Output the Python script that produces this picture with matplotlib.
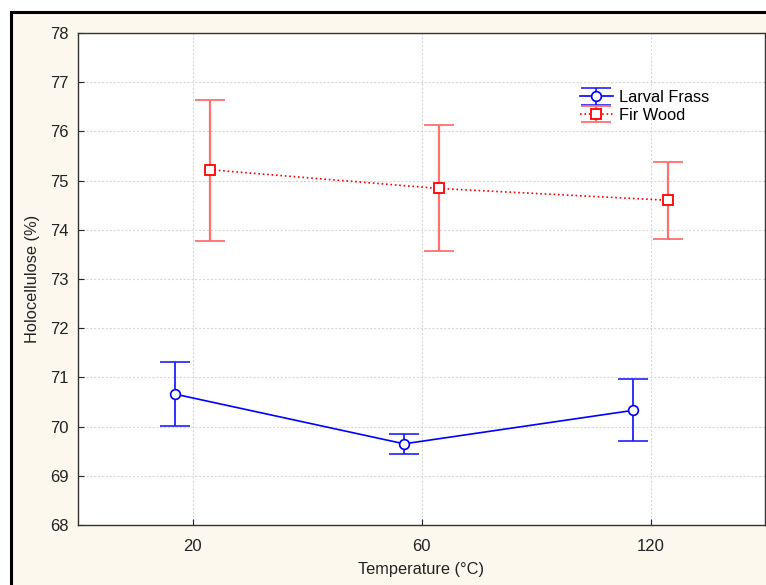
import matplotlib
matplotlib.use("Agg")
import matplotlib.pyplot as plt
import numpy as np
from matplotlib.patches import Rectangle

plt.rcParams['font.family'] = ['Liberation Sans', 'DejaVu Sans']

# data
temps = ['20', '60', '120']
frass_mean = [70.66, 69.65, 70.33]
frass_low = [70.01, 69.44, 69.70]
frass_high = [71.31, 69.85, 70.97]
fir_mean = [75.22, 74.84, 74.60]
fir_low = [73.78, 73.56, 73.82]
fir_high = [76.64, 76.13, 75.38]

W, H = 766, 585
fig = plt.figure(figsize=(W/100, H/100), dpi=100, facecolor='white')
# cream background with black frame (cut at right/bottom)
fig.patches.append(Rectangle((11/W, -0.1), 1.2, (H-12)/H + 0.1, transform=fig.transFigure,
                             facecolor='#fdf8ee', edgecolor='black', linewidth=2.2, zorder=-10))

ax = fig.add_axes([78/W, 60/H, 687/W, 492/H])
ax.set_facecolor('white')

x = np.arange(len(temps))
off = 0.076

fm = np.array(frass_mean)
ferr = [fm - np.array(frass_low), np.array(frass_high) - fm]
wm = np.array(fir_mean)
werr = [wm - np.array(fir_low), np.array(fir_high) - wm]

ax.errorbar(x - off, fm, yerr=ferr, color='#0000ff', ecolor='#2020ff', elinewidth=1.3,
            capsize=11, capthick=1.6, marker='o', markersize=7, markerfacecolor='white',
            markeredgecolor='#0000ff', markeredgewidth=1.2, linewidth=1.2, label='Larval Frass',
            zorder=3)
ax.errorbar(x + off, wm, yerr=werr, color='#ff0000', ecolor='#ff7070', elinewidth=1.6,
            capsize=11, capthick=1.8, marker='s', markersize=7, markerfacecolor='white',
            markeredgecolor='#ff0000', markeredgewidth=1.3, linewidth=1.2, linestyle=':',
            label='Fir Wood', zorder=3)

ax.set_xlim(-0.5, 2.5)
ax.set_ylim(68, 78)
ax.set_xticks(x)
ax.set_xticklabels(temps)
ax.set_yticks(np.arange(68, 79, 1))
ax.tick_params(direction='in', length=4, labelsize=12, colors='#222222')
ax.tick_params(axis='x', pad=10)
ax.tick_params(axis='y', pad=7)
ax.grid(True, color='#d8d8d8', linestyle=(0, (2, 1.5)), linewidth=0.8)
ax.set_axisbelow(True)
for s in ax.spines.values():
    s.set_color('#333333')
    s.set_linewidth(1.0)

ax.set_xlabel('Temperature (°C)', fontsize=11.8, color='#222222', labelpad=6)
ax.set_ylabel('Holocellulose (%)', fontsize=11.8, color='#222222', labelpad=7)

ax.legend(loc='upper left', bbox_to_anchor=(0.714, 0.907), frameon=False, fontsize=11.8,
          handlelength=2.0, handletextpad=0.4, labelspacing=0.15, borderpad=0.2)

fig.savefig('out.png', dpi=100)
